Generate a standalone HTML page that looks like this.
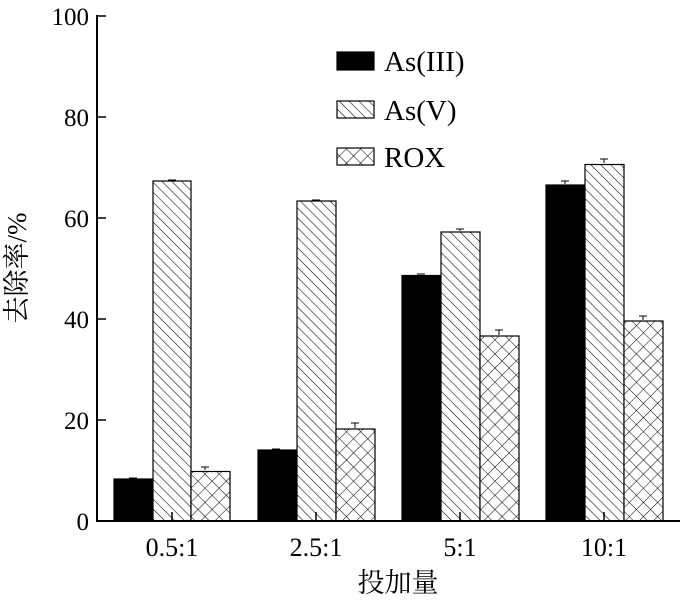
<!DOCTYPE html>
<html><head><meta charset="utf-8"><style>body{margin:0;background:#fff}svg{display:block}text{font-family:"Liberation Serif","Noto Serif CJK SC",serif;fill:#000}</style></head><body>
<svg width="700" height="601" viewBox="0 0 700 601">
<defs>
<pattern id="h" patternUnits="userSpaceOnUse" width="7" height="7" patternTransform="rotate(-45)"><rect width="7" height="7" fill="#fff"/><line x1="0" y1="0" x2="0" y2="7" stroke="#000" stroke-width="1.1"/></pattern>
<pattern id="c" patternUnits="userSpaceOnUse" width="10" height="10" patternTransform="rotate(45)"><rect width="10" height="10" fill="#fff"/><line x1="0" y1="0" x2="0" y2="10" stroke="#000" stroke-width="1"/><line x1="0" y1="0" x2="10" y2="0" stroke="#000" stroke-width="1"/></pattern>
</defs>
<g stroke="#000" stroke-width="1.2">
<rect x="114" y="479" width="39" height="42" fill="#000"/>
<rect x="153" y="181" width="38" height="340" fill="url(#h)"/>
<rect x="191" y="471.5" width="39" height="49.5" fill="url(#c)"/>
<rect x="258" y="450" width="39" height="71" fill="#000"/>
<rect x="297" y="201" width="39" height="320" fill="url(#h)"/>
<rect x="336" y="429" width="39" height="92" fill="url(#c)"/>
<rect x="402" y="275.5" width="39" height="245.5" fill="#000"/>
<rect x="441" y="232" width="39" height="289" fill="url(#h)"/>
<rect x="480" y="336" width="39" height="185" fill="url(#c)"/>
<rect x="546" y="185" width="39" height="336" fill="#000"/>
<rect x="585" y="164.5" width="39" height="356.5" fill="url(#h)"/>
<rect x="624" y="321" width="39" height="200" fill="url(#c)"/>
</g>
<g stroke="#000" stroke-width="1">
<path d="M129 478h8M168 180h8M205 470v-3M201 467h8M272 449h8M312 200h8M355 428v-5M351 423h8M417 274h8M460 231v-2M456 229h8M499 335v-5M495 330h8M565 184v-3M561 181h8M604 163v-4M600 159h8M643 320v-4M639 316h8"/>
</g>
<g stroke="#000" stroke-width="2">
<line x1="97" y1="15" x2="97" y2="522"/>
<line x1="96" y1="521" x2="680" y2="521"/>
</g>
<g stroke="#000" stroke-width="1.5">
<path d="M97 16h9M97 117h9M97 218h9M97 319h9M97 420h9M172 521v-9M316 521v-9M460 521v-9M604 521v-9"/>
</g>
<g font-size="25" text-anchor="end">
<text x="89" y="25">100</text><text x="89" y="126">80</text><text x="89" y="227">60</text><text x="89" y="328">40</text><text x="89" y="429">20</text><text x="89" y="530">0</text>
</g>
<g font-size="26" text-anchor="middle">
<text x="172" y="556">0.5:1</text><text x="316" y="556">2.5:1</text><text x="460" y="556">5:1</text><text x="604" y="556">10:1</text>
</g>
<g font-size="27" text-anchor="middle">
<text x="398" y="592">投加量</text>
<text transform="translate(26,268) rotate(-90)">去除率/%</text>
</g>
<g stroke="#000" stroke-width="1.2">
<rect x="337" y="52" width="37" height="18" fill="#000"/>
<rect x="337" y="101" width="37" height="17" fill="url(#h)"/>
<rect x="337" y="148" width="37" height="17" fill="url(#c)"/>
</g>
<g font-size="29">
<text x="384" y="71">As(III)</text><text x="384" y="120">As(V)</text><text x="384" y="167">ROX</text>
</g>
</svg>
</body></html>
